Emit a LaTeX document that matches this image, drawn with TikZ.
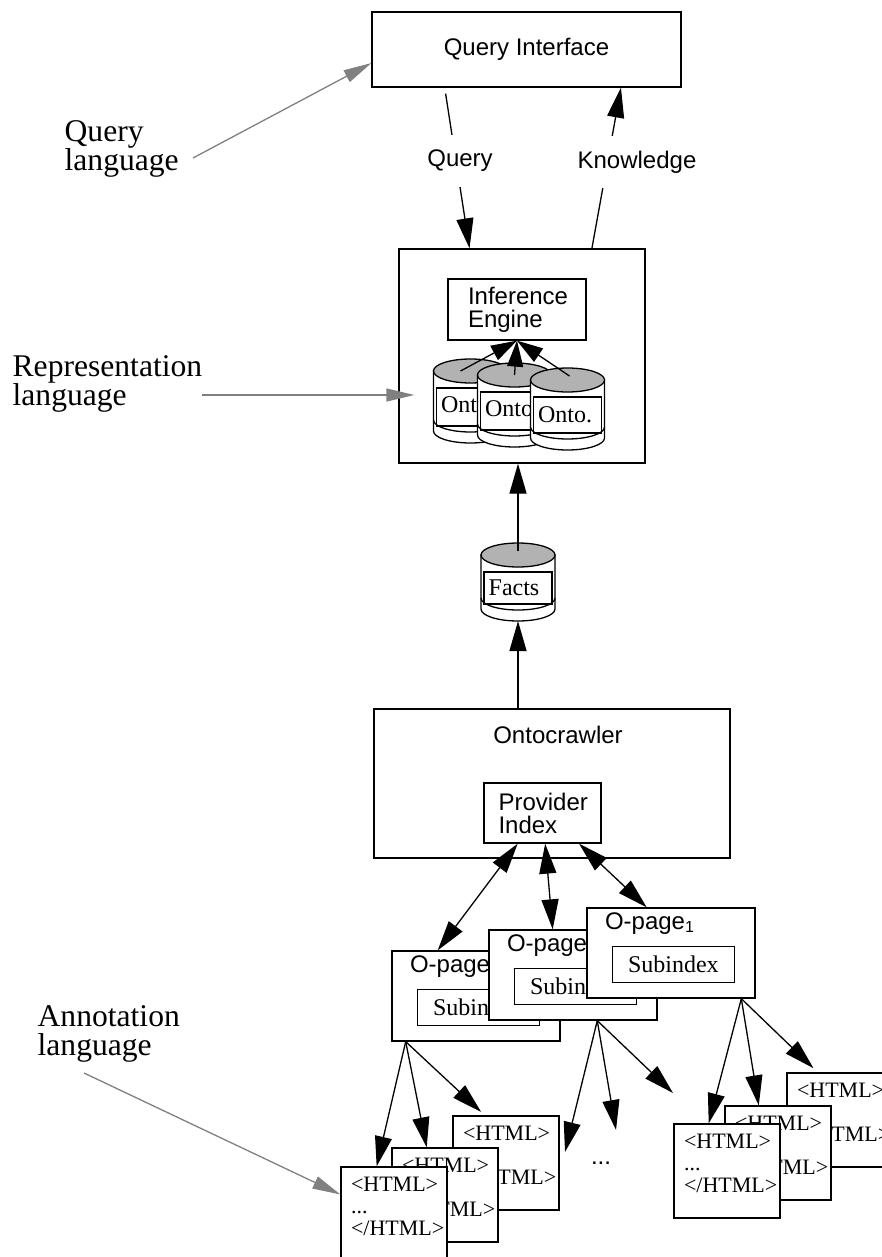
\documentclass[tikz,border=0pt]{standalone}
\usepackage{fontspec}
\setmainfont{Liberation Serif}
\setsansfont{Liberation Sans}
\usetikzlibrary{arrows.meta}
\definecolor{notegray}{RGB}{128,128,128}
\definecolor{drumtop}{RGB}{178,178,178}
\tikzset{
  box/.style={draw, fill=white, font=\sffamily\fontsize{12}{11.5}\selectfont, inner sep=0pt},
  flowlbl/.style={fill=white, font=\sffamily\fontsize{12}{12}\selectfont, inner xsep=2pt, minimum height=26pt},
  arr/.style={-{Triangle[length=15pt,width=8.5pt]}},
  shortarr/.style={-{Triangle[length=13pt,width=8pt]}},
  darr/.style={{Triangle[length=15pt,width=8.5pt]}-{Triangle[length=15pt,width=8.5pt]}},
  note/.style={notegray, -{Triangle[length=14pt,width=6.5pt]}},
  langlabel/.style={font=\fontsize{15.8}{14.5}\selectfont, align=left, inner sep=0pt, anchor=north west},
  opage/.style={draw, fill=white, minimum width=84pt, minimum height=45pt, inner sep=0pt},
  ptitle/.style={font=\sffamily\fontsize{12}{12}\selectfont, inner sep=0pt, anchor=base west},
  subbox/.style={draw, fill=white, minimum width=61pt, minimum height=18pt, font=\fontsize{12}{12}\selectfont, inner sep=0pt},
  htmlpage/.style={draw, fill=white, minimum width=53pt, minimum height=47pt, inner sep=0pt},
  htmltext/.style={font=\fontsize{11}{11}\selectfont, align=left, inner sep=0pt, anchor=north west},
}
% database drum: name, centre x, top y, height, label
\newcommand{\ontodrum}[5]{%
  \filldraw[fill=white] (#2-37,#3) -- (#2-37,#3+#4)
    arc[start angle=180, end angle=0, x radius=37, y radius=12] -- (#2+37,#3) -- cycle;
  \draw (#2-37,#3+#4-11) arc[start angle=180, end angle=0, x radius=37, y radius=12];
  \draw (#2-34,#3+17) rectangle (#2+34,#3+#4-5);
  \filldraw[fill=drumtop] (#2,#3) ellipse[x radius=37, y radius=12];
  \node[font=\fontsize{12}{12}\selectfont, anchor=west, inner sep=0pt] (#1-txt) at (#2-30,#3+6+#4/2) {#5};
  \coordinate (#1) at (#2,#3);
  \coordinate (#1-bot) at (#2,#3+#4+12);
}

\begin{document}
\begin{tikzpicture}[x=0.5pt, y=-0.5pt, line width=0.65pt]
\useasboundingbox (0,0) rectangle (882,1257);

% --- query side ---
\node[box, minimum width=154.5pt, minimum height=37.5pt] (qi) at (526.5,49.5) {Query Interface};
\node[box, minimum width=123pt, minimum height=107pt] (main) at (522,356) {};

\draw[arr, shorten <=3pt] (qi.205) -- (main.116);
\draw[arr] (main.57) -- (qi.338);
\node[flowlbl] (qlbl) at (460,161) {Query};
\node[flowlbl] (klbl) at (637,162) {Knowledge};

% --- inference engine and ontologies ---
\node[box, minimum width=69pt, minimum height=30.5pt, text width=49pt, inner xsep=10pt, align=left] (ie) at (517,309.5) {Inference\\Engine};

\ontodrum{onto1}{470.5}{371}{60}{Ontology}
\ontodrum{onto2}{514.5}{375}{60}{Ontology}
\ontodrum{onto3}{567.5}{380}{58}{Onto.}

\draw[shortarr] ([xshift=-5pt]onto1) -- (ie.south);
\draw[shortarr] (onto2) -- (ie.south);
\draw[shortarr] ([xshift=1pt,yshift=2pt]onto3) -- (ie.south);

% --- facts ---
\ontodrum{facts}{518}{555}{54}{Facts}
\draw[arr] ([yshift=2pt]facts) -- (facts |- main.south);

% --- crawler ---
\node[box, minimum width=178pt, minimum height=74.5pt] (oc) at (552,783.5) {};
\node[font=\sffamily\fontsize{12}{12}\selectfont, inner sep=0pt] (octitle) at (558,735) {Ontocrawler};
\node[box, minimum width=58.5pt, minimum height=30pt, text width=44pt, inner xsep=7.25pt, align=left] (provider) at (542.5,813) {Provider\\Index};
\draw[arr] (facts-bot |- oc.north) -- (facts-bot);

% --- O-pages ---
\node[opage] (op3) at (476,996) {};
\node[ptitle] (t3) at ([shift={(18,22)}]op3.north west) {O-page};
\node[subbox] (sub3) at ([shift={(87,57)}]op3.north west) {Subindex};

\node[opage] (op2) at (573,975) {};
\node[ptitle] (t2) at ([shift={(18,22)}]op2.north west) {O-page};
\node[subbox] (sub2) at ([shift={(87,57)}]op2.north west) {Subindex};

\node[opage] (op1) at (671,953) {};
\node[ptitle] (t1) at ([shift={(18,22)}]op1.north west) {O-page\textsubscript{1}};
\node[subbox] (sub1) at ([shift={(87,57)}]op1.north west) {Subindex};

\draw[darr] (provider.231) -- (op3.130);
\draw[darr] (provider.275) -- (op2.114);
\draw[darr] (provider.320) -- (op1.118);

% --- HTML pages under the left O-page ---
\node[htmlpage] (hA3) at (506,1163) {};
\node[htmltext] (hA3t) at ([shift={(10,10)}]hA3.north west) {<HTML>\\...\\</HTML>};
\node[htmlpage] (hA2) at (445,1195) {};
\node[htmltext] (hA2t) at ([shift={(10,10)}]hA2.north west) {<HTML>\\...\\</HTML>};
\node[htmlpage] (hA1) at (394,1214) {};
\node[htmltext] (hA1t) at ([shift={(10,10)}]hA1.north west) {<HTML>\\...\\</HTML>};

\coordinate (fanA) at (op3.213);
\draw[arr] (fanA) -- (hA1.110);
\draw[arr] (fanA) -- (hA2.111);
\draw[arr, shorten >=2.5pt] (fanA) -- (hA3.114);

% --- middle O-page: more pages ---
\coordinate (fanC) at (op2.298);
\coordinate (endC1) at (565,1152);
\coordinate (endC2) at (616,1130);
\coordinate (endC3) at (673,1093);
\draw[arr] (fanC) -- (endC1);
\draw[arr] (fanC) -- (endC2);
\draw[arr] (fanC) -- (endC3);
\node[font=\sffamily\fontsize{12}{12}\selectfont] (dots) at (601,1163) {...};

% --- HTML pages under the right O-page ---
\node[htmlpage] (hB3) at (840,1120) {};
\node[htmltext] (hB3t) at ([shift={(10,10)}]hB3.north west) {<HTML>\\...\\</HTML>};
\node[htmlpage] (hB2) at (778,1153) {};
\node[htmltext] (hB2t) at ([shift={(10,10)}]hB2.north west) {<HTML>\\...\\</HTML>};
\node[htmlpage] (hB1) at (727,1171) {};
\node[htmltext] (hB1t) at ([shift={(10,10)}]hB1.north west) {<HTML>\\...\\</HTML>};

\coordinate (fanB) at (op1.327);
\draw[arr] (fanB) -- (hB1.111);
\draw[arr] (fanB) -- (hB2.112);
\draw[arr, shorten >=3pt] (fanB) -- (hB3.115);

% --- language labels ---
\node[langlabel] (qlang) at (64,120) {Query\\language};
\node[langlabel] (rlang) at (12,355) {Representation\\language};
\node[langlabel] (alang) at (37,1005) {Annotation\\language};

\coordinate (qtail) at (193,158);
\coordinate (rtail) at (202,395);
\coordinate (atail) at (84,1073);
\draw[note] (qtail) -- (qi.185);
\draw[note, shorten >=-8pt] (rtail) -- (main.west |- rtail);
\draw[note] (atail) -- (hA1.160);

\end{tikzpicture}
\end{document}
